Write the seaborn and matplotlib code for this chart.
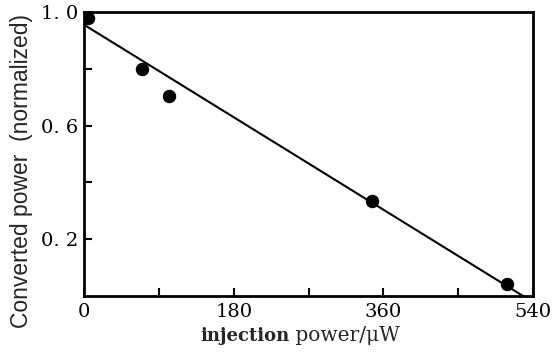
import numpy as np
import pandas as pd
import matplotlib
matplotlib.use("Agg")
import matplotlib.pyplot as plt
from matplotlib.ticker import FixedLocator, FuncFormatter
import seaborn as sns

# -----------------------------
# Data
# -----------------------------
injection_uw = [5, 70, 102, 346, 509]
converted_norm = [0.98, 0.80, 0.705, 0.333, 0.042]

# straight fit line drawn in the figure
fit_x = [0, 528]
fit_y = [0.955, 0.0]

x_major = [0, 180, 360, 540]
x_minor = [90, 270, 450]
y_major = [0.2, 0.6, 1.0]
y_minor = [0.4, 0.8]

df = pd.DataFrame({"injection": injection_uw, "converted": converted_norm})
fit = pd.DataFrame({"x": fit_x, "y": fit_y})

# -----------------------------
# Plot
# -----------------------------
sns.set_style("ticks")
plt.rcParams["font.family"] = ["DejaVu Serif"]

fig = plt.figure(figsize=(5.53, 3.52), dpi=100)
ax = fig.add_axes([0.152, 0.159, 0.812, 0.807])

sns.lineplot(data=fit, x="x", y="y", ax=ax, color="black", linewidth=1.5)
sns.scatterplot(data=df, x="injection", y="converted", ax=ax,
                color="black", s=80, edgecolor="black", zorder=3)

ax.set_xlim(0, 540)
ax.set_ylim(0, 1.0)

ax.xaxis.set_major_locator(FixedLocator(x_major))
ax.xaxis.set_minor_locator(FixedLocator(x_minor))
ax.yaxis.set_major_locator(FixedLocator(y_major))
ax.yaxis.set_minor_locator(FixedLocator(y_minor))
ax.yaxis.set_major_formatter(FuncFormatter(lambda v, p: f"{v:.1f}".replace(".", ". ")))

ax.tick_params(axis="both", which="both", direction="in", width=1.5,
               labelsize=14, colors="black")
ax.tick_params(which="both", length=6)
ax.tick_params(axis="x", pad=5)
ax.tick_params(axis="y", pad=4)

for sp in ax.spines.values():
    sp.set_visible(True)
    sp.set_linewidth(2)
    sp.set_color("black")

ax.set_xlabel("")
ax.set_ylabel("Converted power  (normalized)", family=["Liberation Sans", "DejaVu Sans"],
              fontsize=16.5)
ax.yaxis.set_label_coords(-0.114, 0.44)

# x label: bold "injection" followed by regular "power/μW"
t1 = fig.text(200 / 553, 0.02, "injection", fontsize=13, fontweight="bold",
              ha="left", va="bottom")
ax.annotate(" power/\u03bcW", xy=(1, 0), xycoords=t1, va="bottom", ha="left",
            fontsize=14.5, annotation_clip=False)

fig.savefig("out.png", dpi=100)
